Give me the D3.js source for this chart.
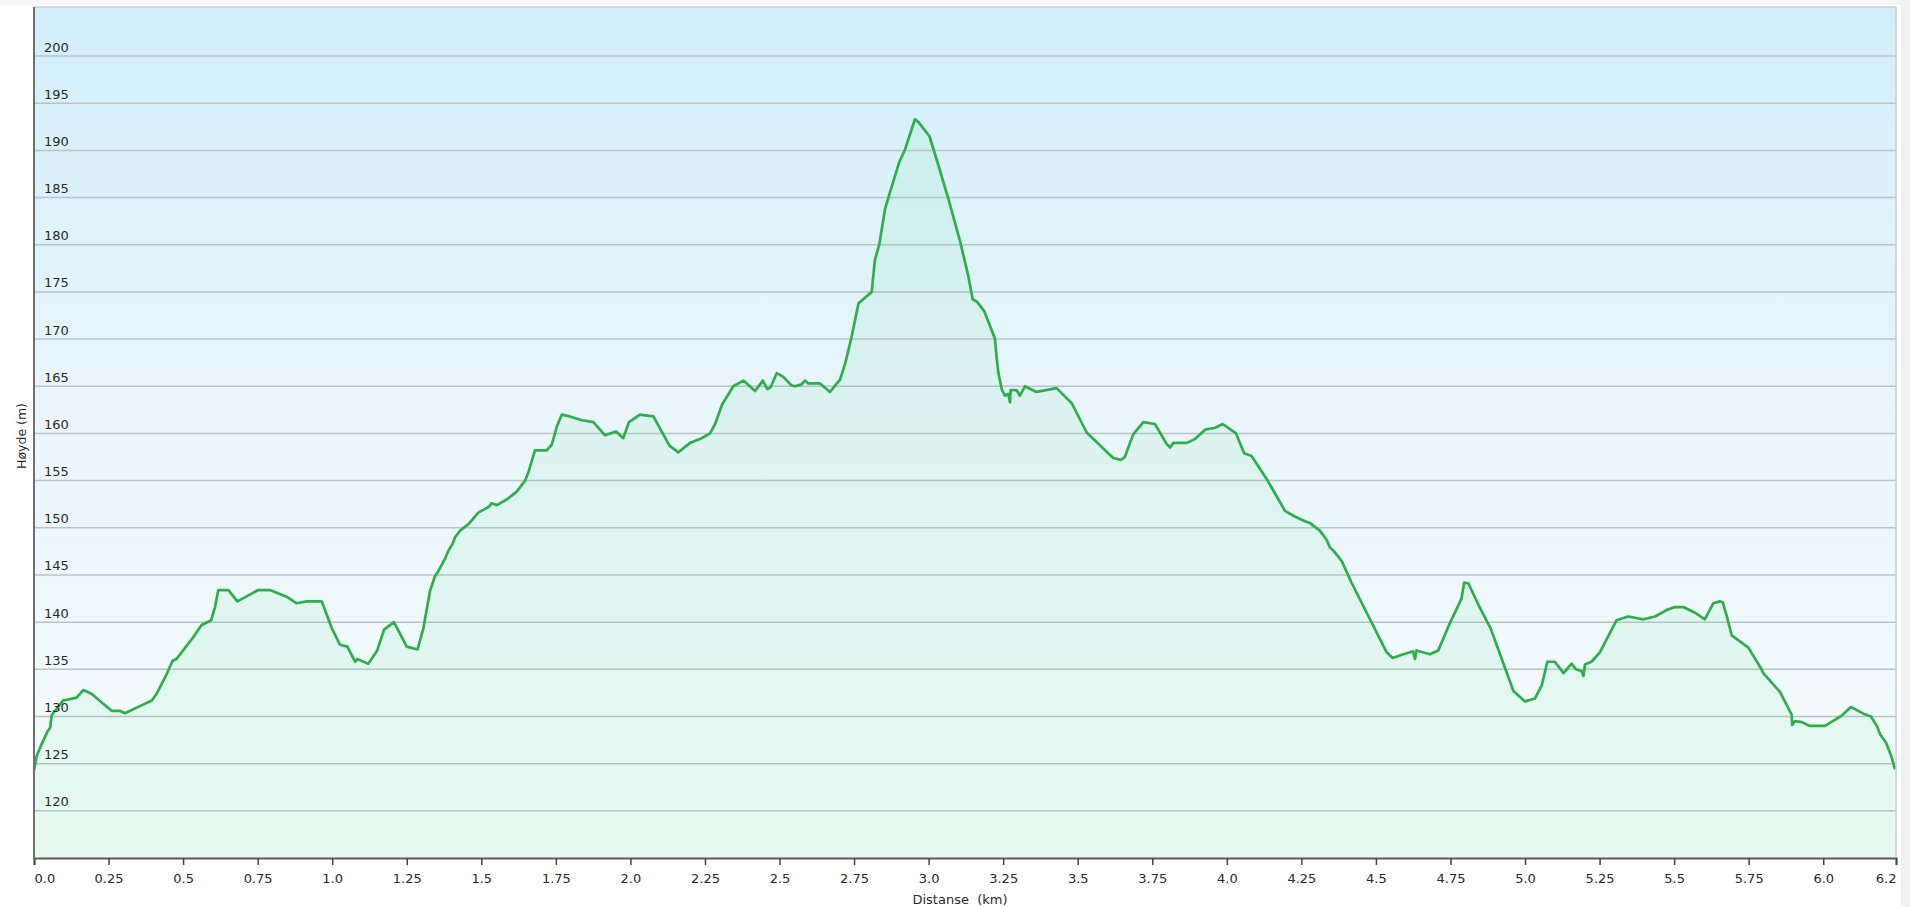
<!DOCTYPE html>
<html><head><meta charset="utf-8">
<script src="https://cdn.jsdelivr.net/npm/d3@7"></script>
<style>body{margin:0;background:#fff;}svg{display:block;}text{font-family:"DejaVu Sans",Verdana,sans-serif;}</style>
</head><body>
<script>
const distKm = [0.000,0.009,0.026,0.045,0.054,0.059,0.065,0.076,0.098,0.115,0.143,0.165,0.193,0.26,0.288,0.305,0.355,0.395,0.411,0.445,0.465,0.478,0.534,0.562,0.594,0.607,0.618,0.652,0.682,0.752,0.791,0.847,0.881,0.914,0.965,0.998,1.026,1.051,1.077,1.084,1.121,1.151,1.174,1.207,1.25,1.286,1.306,1.328,1.345,1.356,1.378,1.39,1.404,1.412,1.429,1.457,1.49,1.524,1.535,1.552,1.585,1.618,1.647,1.658,1.68,1.719,1.736,1.753,1.77,1.797,1.837,1.876,1.915,1.952,1.976,1.995,2.032,2.077,2.131,2.161,2.2,2.233,2.267,2.284,2.308,2.345,2.379,2.418,2.444,2.459,2.47,2.491,2.513,2.54,2.552,2.574,2.585,2.597,2.636,2.669,2.703,2.72,2.74,2.765,2.809,2.82,2.835,2.854,2.865,2.902,2.921,2.954,2.966,3.003,3.033,3.066,3.106,3.133,3.148,3.161,3.186,3.222,3.228,3.234,3.245,3.256,3.267,3.273,3.275,3.295,3.306,3.323,3.362,3.429,3.48,3.53,3.563,3.619,3.645,3.658,3.686,3.72,3.759,3.798,3.81,3.821,3.866,3.893,3.927,3.961,3.986,4.031,4.058,4.083,4.133,4.195,4.228,4.262,4.279,4.312,4.335,4.346,4.357,4.385,4.418,4.536,4.556,4.592,4.625,4.631,4.636,4.681,4.709,4.748,4.787,4.796,4.81,4.849,4.885,4.922,4.961,5.0,5.033,5.056,5.075,5.1,5.129,5.156,5.171,5.19,5.196,5.201,5.223,5.251,5.307,5.346,5.397,5.436,5.476,5.503,5.531,5.57,5.603,5.631,5.653,5.663,5.676,5.693,5.749,5.793,5.799,5.855,5.894,5.896,5.905,5.928,5.955,6.006,6.062,6.093,6.135,6.16,6.18,6.191,6.211,6.226,6.241];
const elevM = [124.3,125.8,127.1,128.4,128.8,130.1,130.4,130.8,131.7,131.8,132.0,132.8,132.4,130.6,130.6,130.35,131.1,131.7,132.4,134.5,135.9,136.1,138.4,139.7,140.2,141.6,143.4,143.4,142.2,143.4,143.4,142.7,142.0,142.2,142.2,139.4,137.6,137.4,135.8,136.1,135.6,137.0,139.2,140.0,137.4,137.1,139.4,143.3,144.9,145.4,146.7,147.6,148.3,149.0,149.7,150.4,151.6,152.2,152.6,152.4,153.0,153.8,155.0,155.9,158.2,158.2,158.8,160.7,162.0,161.8,161.4,161.2,159.8,160.2,159.5,161.2,162.0,161.8,158.7,158.0,159.0,159.4,160.0,161.0,163.1,165.0,165.6,164.5,165.6,164.7,164.9,166.4,166.0,165.1,165.0,165.2,165.6,165.3,165.3,164.4,165.7,167.4,170.0,173.8,175.0,178.4,180.1,183.8,185.0,188.8,190.1,193.3,193.0,191.5,188.4,184.9,180.3,176.7,174.2,174.0,173.0,170.1,168.1,166.4,164.7,164.0,164.2,163.3,164.6,164.6,164.0,165.0,164.4,164.8,163.2,160.1,159.1,157.4,157.2,157.5,159.9,161.2,161.0,158.9,158.5,159.0,159.0,159.4,160.4,160.6,161.0,160.0,157.9,157.6,155.2,151.8,151.2,150.7,150.5,149.7,148.7,147.9,147.6,146.5,144.2,136.8,136.2,136.6,136.9,136.1,137.0,136.6,137.0,139.9,142.5,144.2,144.1,141.5,139.3,136.1,132.7,131.6,131.9,133.3,135.8,135.8,134.6,135.6,135.0,134.8,134.3,135.5,135.8,136.8,140.2,140.6,140.3,140.6,141.3,141.6,141.6,141.0,140.3,142.0,142.2,142.1,140.7,138.6,137.3,135.0,134.6,132.6,130.2,129.1,129.5,129.4,129.0,129.0,130.1,131.0,130.3,130.0,129.0,128.1,127.2,126.0,124.4];
const xTickValues = [0,0.25,0.5,0.75,1.0,1.25,1.5,1.75,2.0,2.25,2.5,2.75,3.0,3.25,3.5,3.75,4.0,4.25,4.5,4.75,5.0,5.25,5.5,5.75,6.0,6.244];
const xTickLabels = ["0.0","0.25","0.5","0.75","1.0","1.25","1.5","1.75","2.0","2.25","2.5","2.75","3.0","3.25","3.5","3.75","4.0","4.25","4.5","4.75","5.0","5.25","5.5","5.75","6.0","6.2"];
const yTickValues = [120,125,130,135,140,145,150,155,160,165,170,175,180,185,190,195,200];
const xTitle = "Distanse  (km)";
const yTitle = "Høyde (m)";

const W = 1910, H = 907;
const L = 34, R = 1896, T = 7, B = 858;
const data = distKm.map((d,i)=>({x:d,y:elevM[i]}));

const svg = d3.select("body").append("svg").attr("width",W).attr("height",H);
const defs = svg.append("defs");
const bg = defs.append("linearGradient").attr("id","bg").attr("x1",0).attr("y1",0).attr("x2",0).attr("y2",1);
bg.append("stop").attr("offset","0%").attr("stop-color","#d2eff9");
bg.append("stop").attr("offset","50%").attr("stop-color","#eaf6fb");
bg.append("stop").attr("offset","100%").attr("stop-color","#f6fcfc");
defs.append("clipPath").attr("id","clip").append("rect").attr("x",L).attr("y",T).attr("width",R-L).attr("height",B-T);

const x = d3.scaleLinear().domain([0,6.244]).range([L,R]);
const y = d3.scaleLinear().domain([115,205.2]).range([B,T]);

svg.append("rect").attr("x",1901).attr("y",0).attr("width",9).attr("height",H).attr("fill","#f0f0f0");
svg.append("rect").attr("x",0).attr("y",0).attr("width",1901).attr("height",5).attr("fill","#f7f7f7");

svg.append("rect").attr("x",L).attr("y",T).attr("width",R-L).attr("height",B-T).attr("fill","url(#bg)");

svg.append("g").selectAll("line").data(yTickValues).join("line")
  .attr("x1",L).attr("x2",R).attr("y1",d=>y(d)).attr("y2",d=>y(d))
  .attr("stroke","#b9c4c8").attr("stroke-width",1.5);

const g = svg.append("g").attr("clip-path","url(#clip)");
g.append("path").datum(data)
  .attr("d", d3.area().x(d=>x(d.x)).y0(B).y1(d=>y(d.y)))
  .attr("fill","rgba(50,215,110,0.075)");
g.append("path").datum(data)
  .attr("d", d3.line().x(d=>x(d.x)).y(d=>y(d.y)))
  .attr("fill","none").attr("stroke","#2fae4e").attr("stroke-width",2.7).attr("stroke-linejoin","round");

svg.append("g").selectAll("text").data(yTickValues).join("text")
  .attr("x",L+10).attr("y",d=>y(d)-4.5).attr("font-size",13).attr("fill","#2a2a2a").text(d=>d);

svg.append("line").attr("x1",L).attr("x2",R).attr("y1",T).attr("y2",T).attr("stroke","#c9cfd2").attr("stroke-width",1.5);
svg.append("line").attr("x1",R).attr("x2",R).attr("y1",T).attr("y2",B).attr("stroke","#c9cfd2").attr("stroke-width",1.5);

const xAxis = d3.axisBottom(x).tickValues(xTickValues).tickSize(7).tickPadding(9)
  .tickFormat((d,i)=>xTickLabels[i]);
const ax = svg.append("g").attr("transform",`translate(0,${B})`).call(xAxis);
ax.select(".domain").attr("stroke","#5a5a5a").attr("stroke-width",2);
ax.selectAll(".tick line").attr("stroke","#444").attr("stroke-width",1.5);
ax.selectAll(".tick text").attr("font-size",13).attr("fill","#2a2a2a")
  .attr("font-family","DejaVu Sans, Verdana, sans-serif")
  .attr("text-anchor",(d,i)=> i===0 ? "start" : (i===xTickValues.length-1 ? "end" : "middle"));

svg.append("line").attr("x1",L).attr("x2",L).attr("y1",T).attr("y2",B+1).attr("stroke","#6f6f6f").attr("stroke-width",2);

svg.append("text").attr("x",960).attr("y",904).attr("text-anchor","middle").attr("font-size",13).attr("fill","#2a2a2a")
  .style("white-space","pre").text(xTitle);
svg.append("text").attr("transform","translate(26,436) rotate(-90)").attr("text-anchor","middle").attr("font-size",12.5).attr("fill","#2a2a2a").text(yTitle);
</script>
</body></html>
